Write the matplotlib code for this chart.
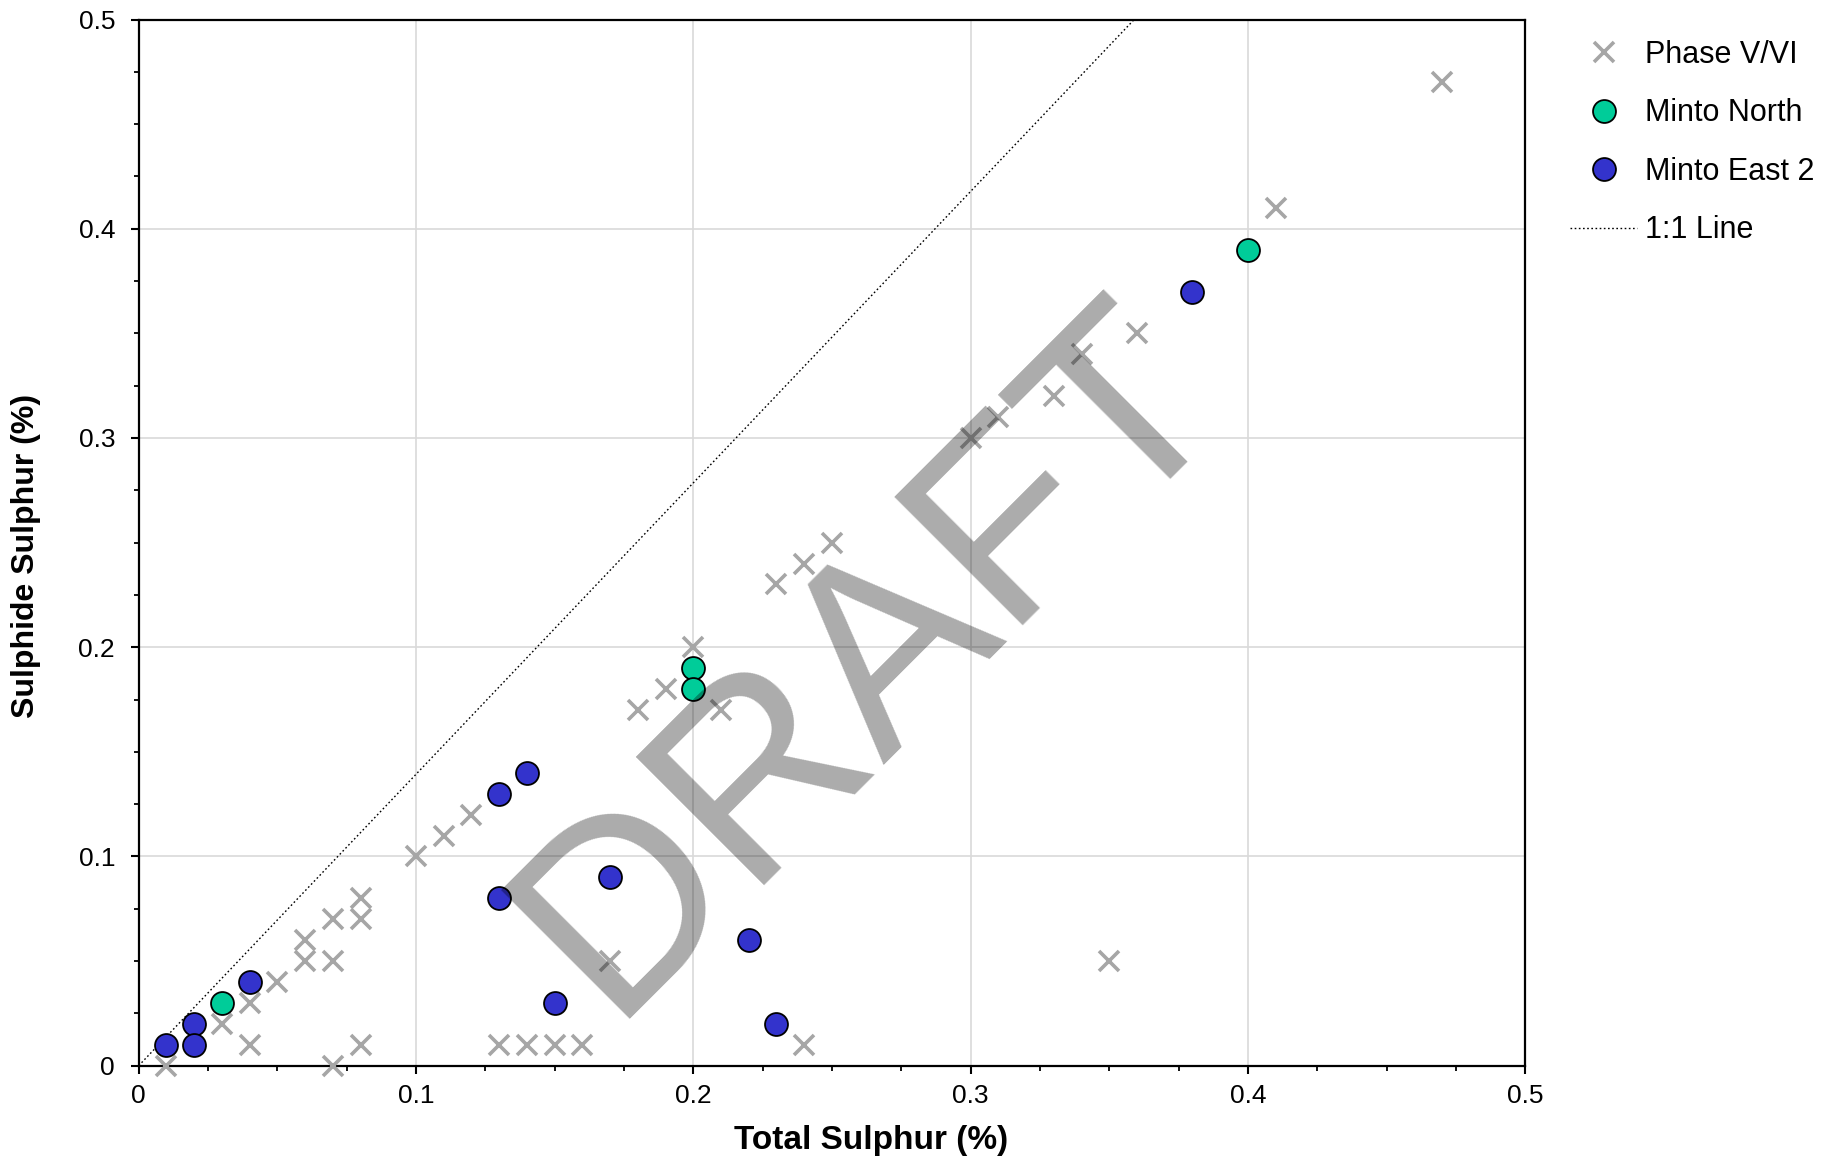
import matplotlib
matplotlib.use("Agg")
import matplotlib.pyplot as plt
from matplotlib.ticker import MultipleLocator

plt.rcParams['font.family'] = ['Liberation Sans', 'DejaVu Sans']

# ---- data ----
phase_x = [0.47, 0.41, 0.36, 0.34, 0.33, 0.31, 0.30, 0.35, 0.25, 0.24, 0.23,
           0.20, 0.19, 0.18, 0.21, 0.17, 0.24, 0.16, 0.15, 0.14, 0.13, 0.12,
           0.11, 0.10, 0.08, 0.08, 0.07, 0.07, 0.06, 0.06, 0.05, 0.04, 0.03,
           0.04, 0.08, 0.07, 0.01]
phase_y = [0.47, 0.41, 0.35, 0.34, 0.32, 0.31, 0.30, 0.05, 0.25, 0.24, 0.23,
           0.20, 0.18, 0.17, 0.17, 0.05, 0.01, 0.01, 0.01, 0.01, 0.01, 0.12,
           0.11, 0.10, 0.08, 0.07, 0.07, 0.05, 0.06, 0.05, 0.04, 0.03, 0.02,
           0.01, 0.01, 0.00, 0.00]
north_x = [0.40, 0.20, 0.20, 0.03]
north_y = [0.39, 0.19, 0.18, 0.03]
east_x = [0.38, 0.14, 0.13, 0.13, 0.17, 0.22, 0.15, 0.23, 0.04, 0.02, 0.02, 0.01]
east_y = [0.37, 0.14, 0.13, 0.08, 0.09, 0.06, 0.03, 0.02, 0.04, 0.02, 0.01, 0.01]
line_x = [0.0, 0.359]
line_y = [0.0, 0.5]
tick_values = [0, 0.1, 0.2, 0.3, 0.4, 0.5]
tick_labels = ['0', '0.1', '0.2', '0.3', '0.4', '0.5']

W, H = 1849, 1168
fig = plt.figure(figsize=(W / 100, H / 100), dpi=100)
L, R, T, B = 138.7, 1525.2, 19.5, 1065.7
ax = fig.add_axes([L / W, 1 - B / H, (R - L) / W, (B - T) / H])

ax.set_xlim(0, 0.5)
ax.set_ylim(0, 0.5)

ax.grid(True, which='major', color='#D9D9D9', linewidth=1.2, zorder=0)
ax.set_axisbelow(True)

h4, = ax.plot(line_x, line_y, color='black', linestyle=(0, (1.2, 1.8)), linewidth=1.0,
              zorder=2, label='1:1 Line')
h1, = ax.plot(phase_x, phase_y, linestyle='none', marker='x', markersize=15,
              markeredgewidth=2.6, color='#A6A6A6', zorder=3, clip_on=False,
              label='Phase V/VI')
h2, = ax.plot(north_x, north_y, linestyle='none', marker='o', markersize=16.5,
              markerfacecolor='#00CC99', markeredgecolor='black',
              markeredgewidth=1.3, zorder=4, clip_on=False, label='Minto North')
h3, = ax.plot(east_x, east_y, linestyle='none', marker='o', markersize=16.5,
              markerfacecolor='#3333CC', markeredgecolor='black',
              markeredgewidth=1.3, zorder=5, clip_on=False, label='Minto East 2')

ax.set_xticks(tick_values)
ax.set_xticklabels(tick_labels, fontsize=19)
ax.set_yticks(tick_values)
ax.set_yticklabels(tick_labels, fontsize=19)
ax.xaxis.set_minor_locator(MultipleLocator(0.025))
ax.yaxis.set_minor_locator(MultipleLocator(0.025))
ax.tick_params(which='major', direction='out', length=6, width=1.5, color='black')
ax.tick_params(axis='x', which='major', pad=7)
ax.tick_params(axis='y', which='major', pad=11)
ax.tick_params(which='minor', direction='out', length=3.8, width=1.3)

for s in ax.spines.values():
    s.set_linewidth(1.6)
    s.set_color('black')

ax.set_xlabel('Total Sulphur (%)', fontsize=24, fontweight='bold')
ax.set_ylabel('Sulphide Sulphur (%)', fontsize=23, fontweight='bold')
ax.xaxis.set_label_coords((871 - L) / (R - L), -(1140 - B) / (B - T), transform=ax.transAxes)
ax.yaxis.set_label_coords(-(L - 26) / (R - L), (B - 556) / (B - T), transform=ax.transAxes)
ax.xaxis.label.set_va('center')
ax.yaxis.label.set_va('center')

leg = fig.legend([h1, h2, h3, h4], ['Phase V/VI', 'Minto North', 'Minto East 2', '1:1 Line'],
                 loc='upper left', bbox_to_anchor=(1570 / W, 1 - 40 / H),
                 frameon=False, fontsize=22, handlelength=2.2, handletextpad=0.25,
                 labelspacing=0.93, borderpad=0, borderaxespad=0, numpoints=1)

fig.text(871 / W, 1 - 660 / H, 'DRAFT', fontsize=190, color='black', alpha=0.33,
         rotation=45, ha='center', va='center', zorder=10)

fig.savefig('out.png', dpi=100)
